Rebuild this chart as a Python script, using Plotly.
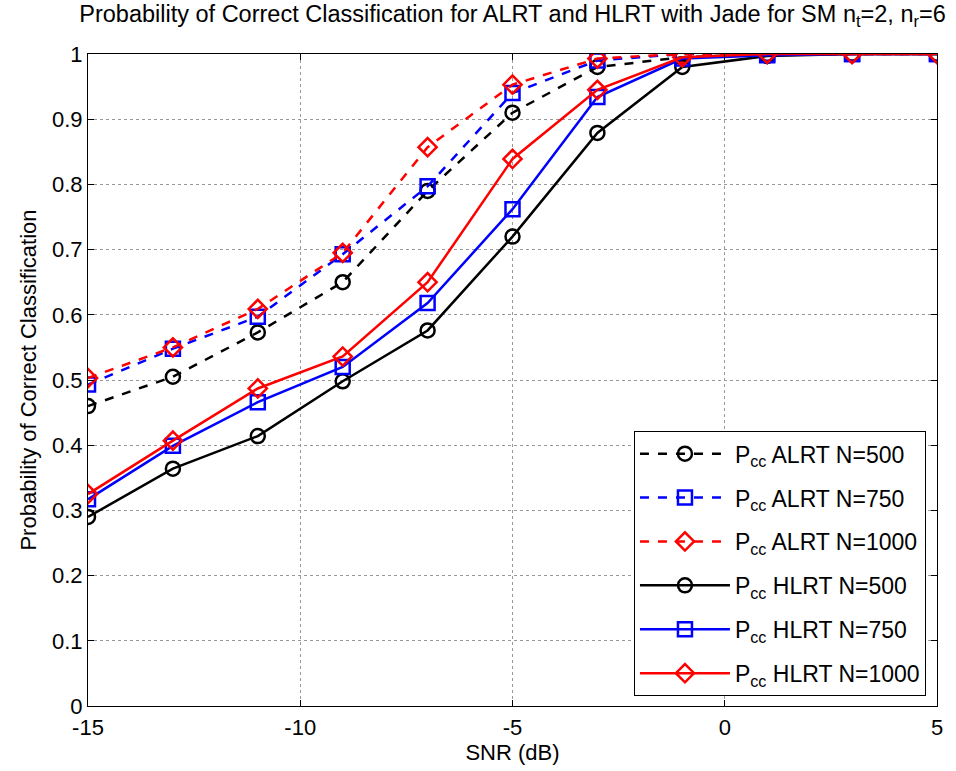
import plotly.graph_objects as go

snr = [-15, -13, -11, -9, -7, -5, -3, -1, 1, 3, 5]
alrt_500 = [0.460, 0.505, 0.573, 0.650, 0.790, 0.910, 0.980, 0.995, 1.0, 1.0, 1.0]
alrt_750 = [0.493, 0.548, 0.597, 0.693, 0.797, 0.940, 0.990, 1.0, 1.0, 1.0, 1.0]
alrt_1000 = [0.503, 0.550, 0.609, 0.695, 0.857, 0.953, 0.993, 1.0, 1.0, 1.0, 1.0]
hlrt_500 = [0.290, 0.364, 0.414, 0.498, 0.576, 0.720, 0.879, 0.980, 0.997, 1.0, 1.0]
hlrt_750 = [0.317, 0.399, 0.466, 0.520, 0.618, 0.762, 0.934, 0.993, 0.998, 1.0, 1.0]
hlrt_1000 = [0.325, 0.407, 0.487, 0.536, 0.650, 0.839, 0.945, 0.995, 1.0, 1.0, 1.0]

x_ticks = [-15, -10, -5, 0, 5]
x_ticktext = ["-15", "-10", "-5", "0", "5"]
y_ticks = [0, 0.1, 0.2, 0.3, 0.4, 0.5, 0.6, 0.7, 0.8, 0.9, 1.0]
y_ticktext = ["0", "0.1", "0.2", "0.3", "0.4", "0.5", "0.6", "0.7", "0.8", "0.9", "1"]

series = [
    ("P<sub>cc</sub> ALRT N=500", alrt_500, "black", "dash", "circle-open"),
    ("P<sub>cc</sub> ALRT N=750", alrt_750, "blue", "dash", "square-open"),
    ("P<sub>cc</sub> ALRT N=1000", alrt_1000, "red", "dash", "diamond-open"),
    ("P<sub>cc</sub> HLRT N=500", hlrt_500, "black", "solid", "circle-open"),
    ("P<sub>cc</sub> HLRT N=750", hlrt_750, "blue", "solid", "square-open"),
    ("P<sub>cc</sub> HLRT N=1000", hlrt_1000, "red", "solid", "diamond-open"),
]

fig = go.Figure()
for i, (name, y, color, dash, sym) in enumerate(series):
    fig.add_trace(go.Scatter(
        x=snr, y=y, name=name, mode="lines+markers", legendgroup=f"g{i}",
        line=dict(color=color, width=2.5, dash=dash),
        marker=dict(symbol=sym, size=14, color=color, line=dict(color=color, width=2.5)),
    ))

axis_common = dict(
    showline=True, linecolor="black", linewidth=1, mirror="ticks",
    ticks="inside", ticklen=6, tickcolor="black",
    showgrid=True, gridcolor="#999999", griddash="dot", gridwidth=1,
    zeroline=False, tickfont=dict(size=22, color="black"),
)

fig.update_layout(
    width=956, height=771,
    margin=dict(l=88, r=19, t=54, b=65),
    paper_bgcolor="white", plot_bgcolor="white",
    font=dict(family="Liberation Sans, Arial, sans-serif", color="black"),
    title=dict(text="Probability of Correct Classification for ALRT and HLRT with Jade for SM n<sub>t</sub>=2, n<sub>r</sub>=6",
               xref="paper", x=0.5, xanchor="center", y=0.993, yanchor="top", font=dict(size=23.5)),
    xaxis=dict(range=[-15, 5], tickvals=x_ticks, ticktext=x_ticktext, ticklabelstandoff=2,
               title=dict(text="SNR (dB)", font=dict(size=22), standoff=3), **axis_common),
    yaxis=dict(range=[0, 1], tickvals=y_ticks, ticktext=y_ticktext,
               title=dict(text="Probability of Correct Classification", font=dict(size=22), standoff=9),
               **axis_common),
    legend=dict(x=0.987, y=0.015, xanchor="right", yanchor="bottom",
                bgcolor="white", bordercolor="black", borderwidth=1,
                font=dict(size=23, color="black"), tracegroupgap=11,
                itemwidth=90),
    showlegend=True,
)

fig.write_html("out.html")
